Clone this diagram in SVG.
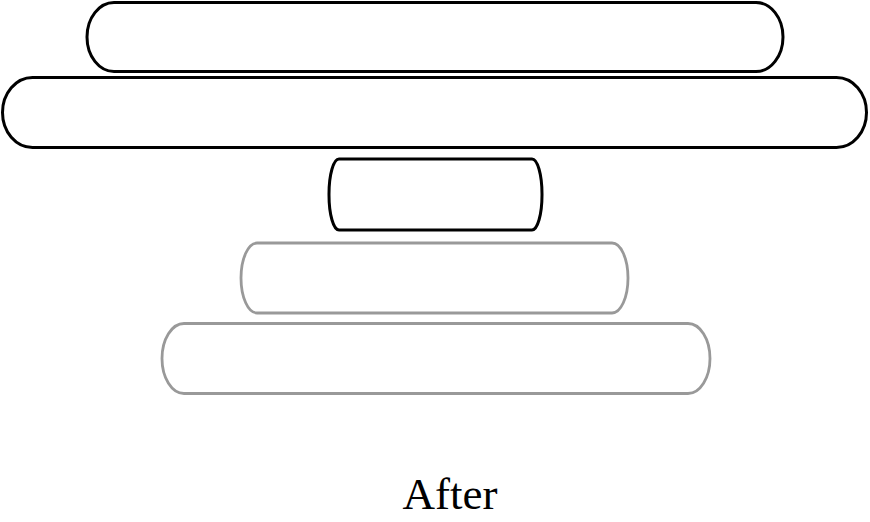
<svg xmlns="http://www.w3.org/2000/svg" width="870" height="522" viewBox="0 0 870 522">
<style>
.blk{fill:#fff;stroke:#000;stroke-width:3}
.gry{fill:#fff;stroke:#999;stroke-width:2.8}
.lbl{font-family:"Liberation Serif",serif;font-size:45px;fill:#000}
</style>
<rect width="870" height="522" fill="#fff"/>
<g id="bar1"><rect class="blk" x="87" y="2.5" width="696" height="69" rx="27" ry="34.5"/></g>
<g id="bar2"><rect class="blk" x="2.5" y="77.5" width="864" height="70" rx="30" ry="35"/></g>
<g id="bar3"><rect class="blk" x="329" y="159" width="213" height="71" rx="10" ry="35"/></g>
<g id="bar4"><rect class="gry" x="241" y="243" width="387" height="70" rx="16" ry="35"/></g>
<g id="bar5"><rect class="gry" x="162" y="323.5" width="548" height="70" rx="22" ry="35"/></g>
<g id="connectors"></g>
<text class="lbl" x="450" y="509" text-anchor="middle">After</text>
</svg>
